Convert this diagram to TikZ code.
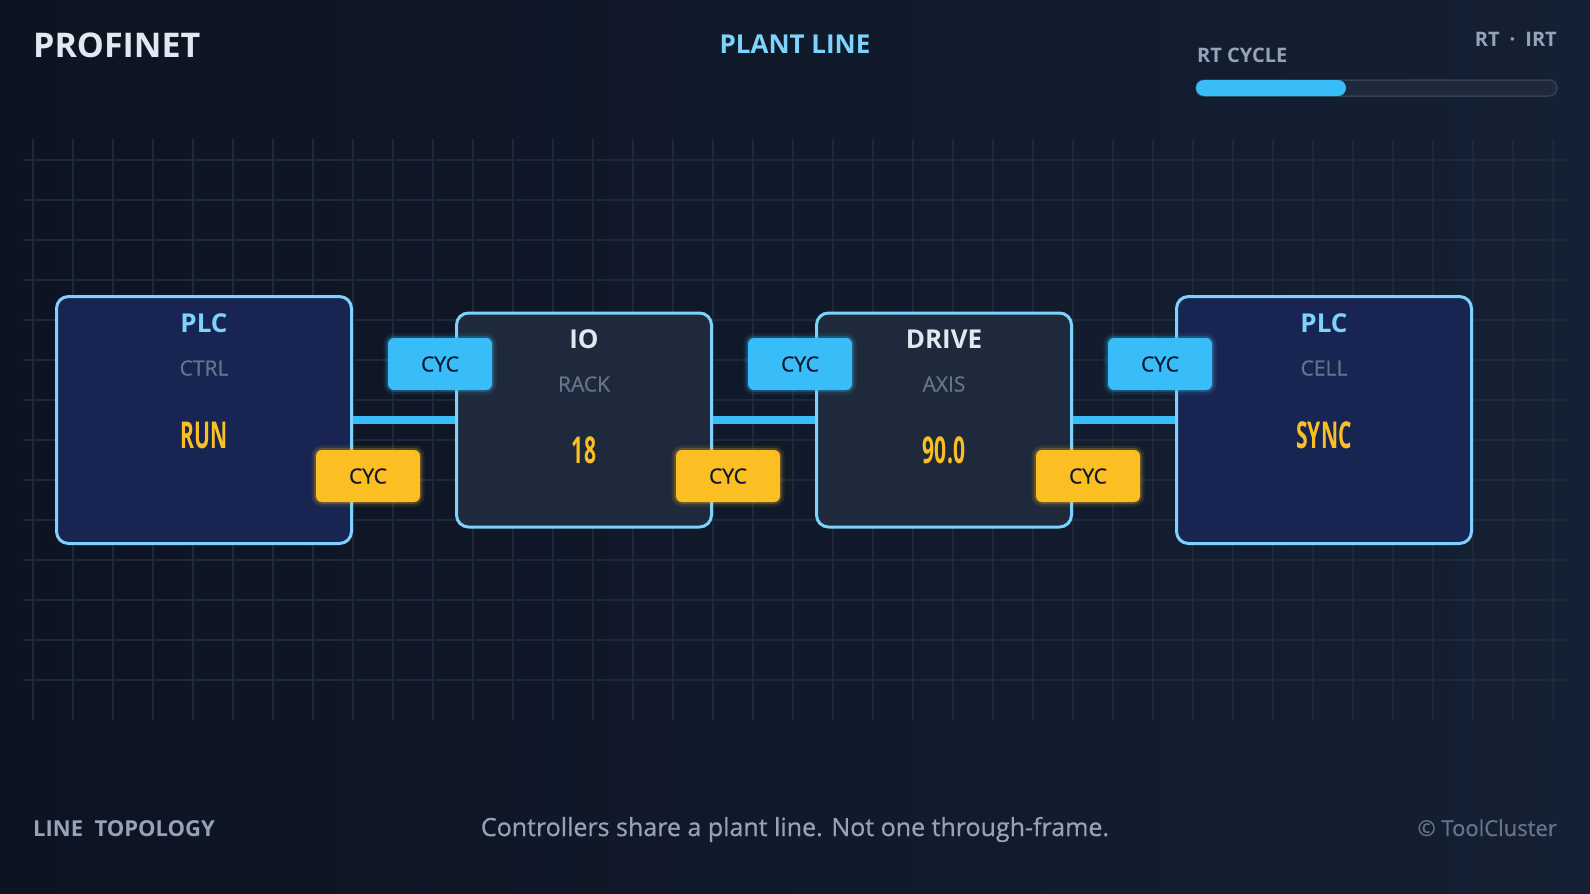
\documentclass[tikz,border=0pt]{standalone}
\usepackage{fontspec}
\setmainfont{Open Sans}
\newfontfamily\valfont[FakeStretch=0.57]{Open Sans}
\newfontfamily\midfont[FakeBold=0.7]{Open Sans}
\usetikzlibrary{positioning}
\usetikzlibrary{calc}
\definecolor{bgleft}{HTML}{0D1322}
\definecolor{bgright}{HTML}{142033}
\definecolor{gridcol}{HTML}{1D2839}
\definecolor{skyline}{HTML}{38BDF8}
\definecolor{skyedge}{HTML}{7DD3FC}
\definecolor{plcfill}{HTML}{182552}
\definecolor{devfill}{HTML}{1E293B}
\definecolor{trackedge}{HTML}{334155}
\definecolor{amber}{HTML}{FBBF24}
\definecolor{paper}{HTML}{E2E8F0}
\definecolor{slate}{HTML}{94A3B8}
\definecolor{dimslate}{HTML}{64748B}
\definecolor{ink}{HTML}{0F172A}

\begin{document}
\begin{tikzpicture}[%
x=1pt, y=-1pt,
every node/.style={inner sep=0pt},
gridline/.style={draw=gridcol,line width=1.2pt},
plcbox/.style={draw=skyedge,line width=3pt,fill=plcfill,rounded corners=12pt,
  minimum width=295pt,minimum height=247pt},
unitbox/.style={plcbox,fill=devfill,minimum width=255pt,minimum height=214pt},
link/.style={draw=skyline,line width=8pt},
cyctag/.style={rounded corners=6pt,minimum width=104pt,minimum height=52pt,
  text=ink,font=\midfont\fontsize{21}{24}\selectfont},
tagblue/.style={cyctag,fill=skyline,
  preaction={draw=skyline,line width=9pt,draw opacity=.10},
  preaction={draw=skyline,line width=4pt,draw opacity=.22}},
tagamber/.style={cyctag,fill=amber,
  preaction={draw=amber,line width=9pt,draw opacity=.10},
  preaction={draw=amber,line width=4pt,draw opacity=.22}},
boxtitle/.style={anchor=base,font=\fontsize{26}{30}\selectfont\bfseries},
boxsub/.style={anchor=base,text=dimslate,font=\midfont\fontsize{21}{24}\selectfont},
boxvalue/.style={anchor=base,text=amber,font=\valfont\fontsize{37}{40}\selectfont\bfseries}]
\shade [left color=bgleft,right color=bgright] (0,0) rectangle (1590,894);
\useasboundingbox (0,0) rectangle (1590,894);
\foreach \gx in {33,73,...,1553}
  \draw [gridline] (\gx,139) -- (\gx,720);
\foreach \gy in {160,200,...,680}
  \draw [gridline] (23,\gy) -- (1567,\gy);
\node [anchor=base west,text=paper,font=\fontsize{34}{40}\selectfont\bfseries] (brand) at (33,57) {PROFINET};
\node [anchor=base,text=skyedge,font=\fontsize{26}{30}\selectfont\bfseries] (plantline) at (795,53) {PLANT LINE};
\node [anchor=base west,text=slate,font=\fontsize{20}{24}\selectfont\bfseries] (cyclelabel) at (1197,62) {RT CYCLE};
\node [anchor=base east,text=slate,font=\fontsize{20}{24}\selectfont\bfseries] (modes) at (1557,46) {RT\enspace·\enspace IRT};
\draw [fill=devfill,draw=trackedge,line width=1.5pt,rounded corners=8pt] (1196,80) rectangle (1557,96);
\fill [skyline,rounded corners=8pt] (1196,80) rectangle (1346,96);
\node [plcbox]  (plcA)  at (204,420)  {};
\node [unitbox] (io)    at (584,420)  {};
\node [unitbox] (drive) at (944,420)  {};
\node [plcbox]  (plcB)  at (1324,420) {};
\node [boxtitle,text=skyedge] (plcA-title) at ($(plcA.north)+(0,37.5)$) {PLC};
\node [boxsub]   (plcA-sub)   at ($(plcA.north)+(0,80.5)$)  {CTRL};
\node [boxvalue] (plcA-value) at ($(plcA.north)+(0,153.5)$) {RUN};
\node [boxtitle,text=paper] (io-title) at ($(io.north)+(0,37)$) {IO};
\node [boxsub]   (io-sub)   at ($(io.north)+(0,80)$)  {RACK};
\node [boxvalue] (io-value) at ($(io.north)+(0,152)$) {18};
\node [boxtitle,text=paper] (drive-title) at ($(drive.north)+(0,37)$) {DRIVE};
\node [boxsub]   (drive-sub)   at ($(drive.north)+(0,80)$)  {AXIS};
\node [boxvalue] (drive-value) at ($(drive.north)+(0,152)$) {90.0};
\node [boxtitle,text=skyedge] (plcB-title) at ($(plcB.north)+(0,37.5)$) {PLC};
\node [boxsub]   (plcB-sub)   at ($(plcB.north)+(0,80.5)$)  {CELL};
\node [boxvalue] (plcB-value) at ($(plcB.north)+(0,153.5)$) {SYNC};
\draw [link] (plcA.east)  -- (io.west);
\draw [link] (io.east)    -- (drive.west);
\draw [link] (drive.east) -- (plcB.west);
\node [tagblue]  (cyc1) at ($(io.west)+(-15,-56)$)    {CYC};
\node [tagamber] (cyc2) at ($(plcA.east)+(15,56)$)    {CYC};
\node [tagblue]  (cyc3) at ($(drive.west)+(-15,-56)$) {CYC};
\node [tagamber] (cyc4) at ($(io.east)+(15,56)$)      {CYC};
\node [tagblue]  (cyc5) at ($(plcB.west)+(-15,-56)$)  {CYC};
\node [tagamber] (cyc6) at ($(drive.east)+(15,56)$)   {CYC};
\node [anchor=base west,text=slate,font=\fontsize{22}{26}\selectfont\bfseries] (topology) at (33,836) {LINE\ \ TOPOLOGY};
\node [anchor=base,text=slate,font=\midfont\fontsize{25}{30}\selectfont] (caption) at (795,836) {Controllers share a plant line. Not one through-frame.};
\node [anchor=base east,text=dimslate,font=\midfont\fontsize{22}{26}\selectfont] (credit) at (1557,836) {© ToolCluster};
\end{tikzpicture}
\end{document}
